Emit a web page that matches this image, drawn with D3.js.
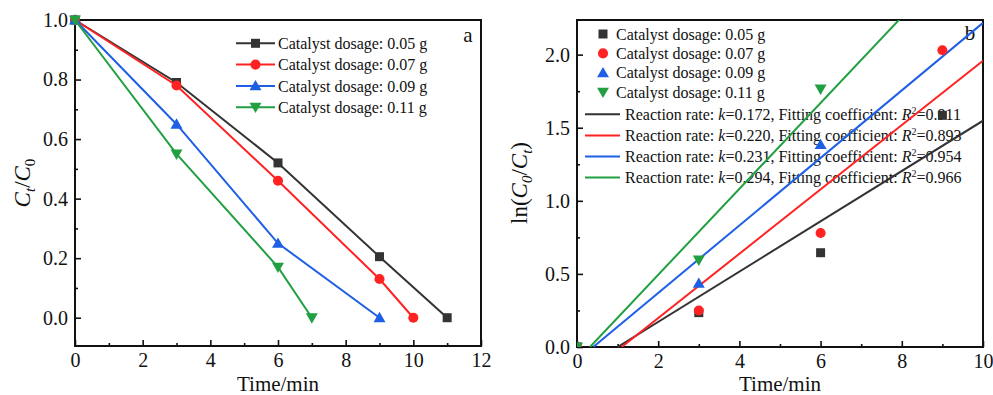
<!DOCTYPE html>
<html>
<head>
<meta charset="utf-8">
<script src="https://cdn.jsdelivr.net/npm/d3@7"></script>
<style>
  body { margin: 0; background: #fff; }
  svg text { font-family: "Liberation Serif", "Times New Roman", serif !important; fill: #111; }
</style>
</head>
<body>
<div id="chart"></div>
<script>
// values
var dosages = ["0.05", "0.07", "0.09", "0.11"];
var timeA = [[0, 3, 6, 9, 11], [0, 3, 6, 9, 10], [0, 3, 6, 9], [0, 3, 6, 7]];
var ratioA = [[1, 0.79, 0.52, 0.205, 0], [1, 0.78, 0.46, 0.13, 0], [1, 0.65, 0.25, 0], [1, 0.55, 0.17, 0]];
var timeB = [[0, 3, 6, 9], [0, 3, 6, 9], [0, 3, 6], [0, 3, 6]];
var lnB = [[0, 0.235, 0.645, 1.585], [0, 0.25, 0.78, 2.03], [0, 0.435, 1.385], [0, 0.595, 1.765]];
var rateK = [0.172, 0.220, 0.231, 0.294];
var fitStart = [1.0, 1.1, 0.4, 0.32];   // where each fit line leaves the x axis
var fitR2 = ["0.911", "0.893", "0.954", "0.966"];
var ticksXA = [0, 2, 4, 6, 8, 10, 12];
var ticksYA = [0, 0.2, 0.4, 0.6, 0.8, 1.0];
var ticksXB = [0, 2, 4, 6, 8, 10];
var ticksYB = [0, 0.5, 1.0, 1.5, 2.0];

var colors = ["#333333", "#ff2222", "#1f5fe6", "#22a041"];
var shapes = [d3.symbolSquare, d3.symbolCircle, d3.symbolTriangle, d3.symbolTriangle];
var sizes = [81, 80, 62, 62];
var rot = [0, 0, 0, 180];
var serif = '"Liberation Serif", "Times New Roman", serif';

var svg = d3.select("#chart").append("svg")
    .attr("width", 993)
    .attr("height", 395)
    .attr("font-family", serif);

function marker(g, i, x, y) {
    g.append("path")
        .attr("d", d3.symbol().type(shapes[i]).size(sizes[i])())
        .attr("transform", "translate(" + x + "," + y + ") rotate(" + rot[i] + ")" + (i >= 2 ? " translate(0,1)" : ""))
        .attr("fill", colors[i]);
}

function axes(g, x, y, tx, ty, minorX, minorY, fmtY) {
    var h = y.range()[0], w = x.range()[1];
    var ax = g.append("g").attr("transform", "translate(0," + h + ")")
        .call(d3.axisBottom(x).tickValues(tx).tickSize(-6).tickPadding(7).tickFormat(d3.format("d")));
    ax.append("g").call(d3.axisBottom(x).tickValues(minorX).tickSize(-3).tickFormat(""));
    var ay = g.append("g")
        .call(d3.axisLeft(y).tickValues(ty).tickSize(-6).tickPadding(7).tickFormat(fmtY));
    ay.append("g").call(d3.axisLeft(y).tickValues(minorY).tickSize(-3).tickFormat(""));
    g.selectAll(".domain").remove();
    g.selectAll("g").attr("font-family", serif);
    g.selectAll(".tick line").attr("stroke", "#111").attr("stroke-width", 1.6);
    g.selectAll(".tick text").style("font-size", "20px").style("font-family", serif).attr("fill", "#111");
    g.append("rect").attr("x", 0).attr("y", 0).attr("width", w).attr("height", h)
        .attr("fill", "none").attr("stroke", "#111").attr("stroke-width", 2);
}

// ---------- panel a ----------
var ga = svg.append("g").attr("transform", "translate(75,20)");
var xa = d3.scaleLinear().domain([0, 12]).range([0, 406]);
var ya = d3.scaleLinear().domain([-0.095, 1.0]).range([326, 0]);

axes(ga, xa, ya, ticksXA, ticksYA, [1, 3, 5, 7, 9, 11], [0.1, 0.3, 0.5, 0.7, 0.9], d3.format(".1f"));

var lineA = d3.line().x(function (d) { return xa(d[0]); }).y(function (d) { return ya(d[1]); });
dosages.forEach(function (d, i) {
    var pts = d3.zip(timeA[i], ratioA[i]);
    ga.append("path").attr("d", lineA(pts))
        .attr("fill", "none").attr("stroke", colors[i]).attr("stroke-width", 2);
    pts.forEach(function (p) { marker(ga, i, xa(p[0]), ya(p[1])); });
});

// legend a
dosages.forEach(function (d, i) {
    var yy = 23.3 + i * 21.3;
    ga.append("line").attr("x1", 161).attr("x2", 200).attr("y1", yy).attr("y2", yy)
        .attr("stroke", colors[i]).attr("stroke-width", 2);
    marker(ga, i, 180.5, yy);
    ga.append("text").attr("x", 203).attr("y", yy).attr("dy", "0.35em")
        .style("font-size", "16px").text("Catalyst dosage: " + d + " g");
});
ga.append("text").attr("x", 393).attr("y", 15).attr("dy", "0.35em")
    .attr("text-anchor", "middle").style("font-size", "21px").text("a");

svg.append("text").attr("x", 278).attr("y", 390.5).attr("text-anchor", "middle")
    .style("font-size", "21px").text("Time/min");

var ta = svg.append("text").attr("transform", "translate(30,183) rotate(-90)")
    .attr("text-anchor", "middle").style("font-size", "23px");
ta.append("tspan").style("font-style", "italic").text("C");
ta.append("tspan").attr("dy", 5).style("font-size", "15px").style("font-style", "italic").text("t");
ta.append("tspan").attr("dy", -5).text("/");
ta.append("tspan").style("font-style", "italic").text("C");
ta.append("tspan").attr("dy", 5).style("font-size", "15px").text("0");

// ---------- panel b ----------
var gb = svg.append("g").attr("transform", "translate(577,20)");
var xb = d3.scaleLinear().domain([0, 10]).range([0, 406]);
var yb = d3.scaleLinear().domain([0, 2.237]).range([327, 0]);

gb.append("clipPath").attr("id", "clipb").append("rect")
    .attr("width", 406).attr("height", 327);

axes(gb, xb, yb, ticksXB, ticksYB, [1, 3, 5, 7, 9], [0.25, 0.75, 1.25, 1.75], d3.format(".1f"));

// legend b
dosages.forEach(function (d, i) {
    var yy = 14 + i * 19.4;
    marker(gb, i, 26, yy);
    gb.append("text").attr("x", 39).attr("y", yy).attr("dy", "0.35em")
        .style("font-size", "16px").text("Catalyst dosage: " + d + " g");
});
rateK.forEach(function (k, i) {
    var yy = 94.3 + i * 21.1;
    gb.append("line").attr("x1", 8).attr("x2", 43).attr("y1", yy).attr("y2", yy)
        .attr("stroke", colors[i]).attr("stroke-width", 2);
    var t = gb.append("text").attr("x", 48).attr("y", yy).attr("dy", "0.35em")
        .style("font-size", "16px");
    t.append("tspan").text("Reaction rate: ");
    t.append("tspan").style("font-style", "italic").text("k");
    t.append("tspan").text("=" + k.toFixed(3) + ", Fitting coefficient: ");
    t.append("tspan").style("font-style", "italic").text("R");
    t.append("tspan").attr("dy", -6).style("font-size", "10px").text("2");
    t.append("tspan").attr("dy", 6).text("=" + fitR2[i]);
});
gb.append("text").attr("x", 393).attr("y", 13).attr("dy", "0.35em")
    .attr("text-anchor", "middle").style("font-size", "21px").text("b");

var plotB = gb.append("g").attr("clip-path", "url(#clipb)");
rateK.forEach(function (k, i) {
    plotB.append("line")
        .attr("x1", xb(fitStart[i])).attr("y1", yb(0))
        .attr("x2", xb(10)).attr("y2", yb(k * (10 - fitStart[i])))
        .attr("stroke", colors[i]).attr("stroke-width", 2);
});
dosages.forEach(function (d, i) {
    timeB[i].forEach(function (t, j) { marker(plotB, i, xb(t), yb(lnB[i][j])); });
});

svg.append("text").attr("x", 780).attr("y", 390.5).attr("text-anchor", "middle")
    .style("font-size", "21px").text("Time/min");

var tb = svg.append("text").attr("transform", "translate(527,183) rotate(-90)")
    .attr("text-anchor", "middle").style("font-size", "23px");
tb.append("tspan").text("ln(");
tb.append("tspan").style("font-style", "italic").text("C");
tb.append("tspan").attr("dy", 5).style("font-size", "15px").style("font-style", "italic").text("0");
tb.append("tspan").attr("dy", -5).text("/");
tb.append("tspan").style("font-style", "italic").text("C");
tb.append("tspan").attr("dy", 5).style("font-size", "15px").style("font-style", "italic").text("t");
tb.append("tspan").attr("dy", -5).text(")");
</script>
</body>
</html>
